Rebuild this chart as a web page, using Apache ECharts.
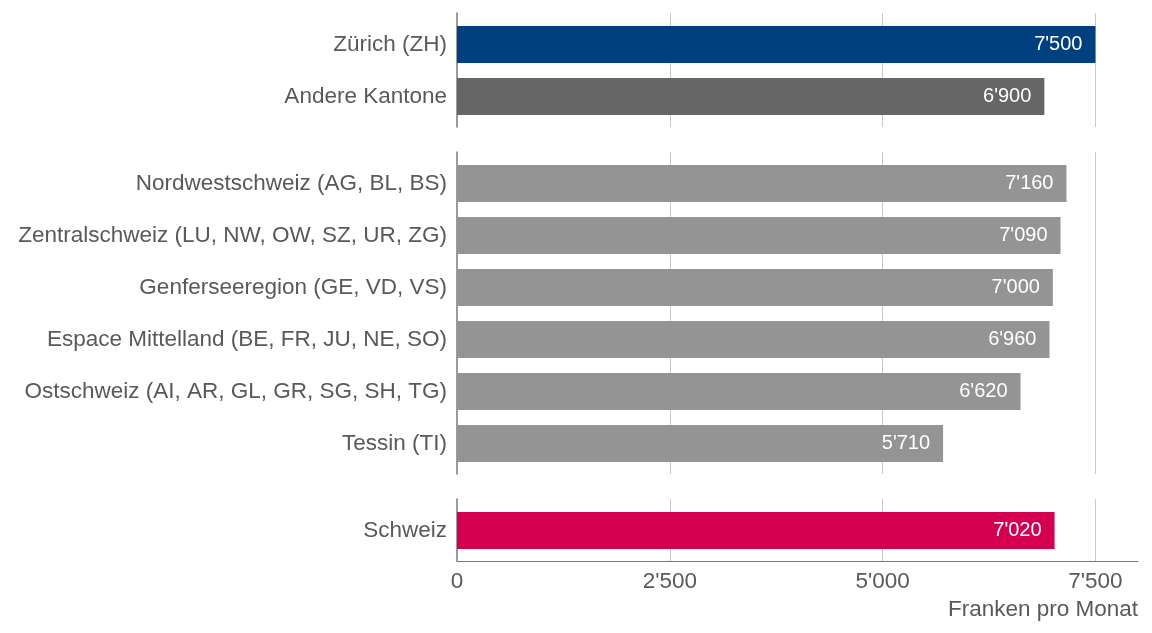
<!DOCTYPE html>
<html>
<head>
<meta charset="utf-8">
<script src="https://cdn.jsdelivr.net/npm/echarts@6/dist/echarts.min.js"></script>
<style>
  html, body { margin: 0; padding: 0; background: #fff; }
  #chart { width: 1152px; height: 633px; }
</style>
</head>
<body>
<div id="chart"></div>
<script>
// Lohn pro Monat nach Region
var topCats = ["Zürich (ZH)", "Andere Kantone"];
var topValues = [7500, 6900];

var regionCats = [
  "Nordwestschweiz (AG, BL, BS)",
  "Zentralschweiz (LU, NW, OW, SZ, UR, ZG)",
  "Genferseeregion (GE, VD, VS)",
  "Espace Mittelland (BE, FR, JU, NE, SO)",
  "Ostschweiz (AI, AR, GL, GR, SG, SH, TG)",
  "Tessin (TI)"
];
var regionValues = [7160, 7090, 7000, 6960, 6620, 5710];

var chCats = ["Schweiz"];
var chValues = [7020];

var xTicks = [0, 2500, 5000, 7500];
var unitLabel = "Franken pro Monat";

var topColors = ["#00407f", "#666666"];
var regionColor = "#949494";
var chColor = "#d4004f";

function fmt(v) {
  return String(v).replace(/\B(?=(\d{3})+(?!\d))/g, "'");
}

var textColor = "#595959";
var labelSize = 22.5;
var gridLeft = 457, gridWidth = 681;
var xMax = 8000;

// background grids (lines), then data grids
var bgBoxes = [[13, 114], [152, 322], [499, 62]];
var dataBoxes = [[18.5, 104], [157.4, 312], [504.5, 52]];

var grids = [], xAxes = [], yAxes = [];
bgBoxes.forEach(function (b, i) {
  grids.push({ left: gridLeft, width: gridWidth, top: b[0], height: b[1] });
  var last = i === bgBoxes.length - 1;
  xAxes.push({
    gridIndex: i, type: "value", min: 0, max: xMax, interval: xTicks[1] - xTicks[0],
    axisLine: { show: last, lineStyle: { color: "#7a7a7a", width: 1 } },
    axisTick: { show: false },
    axisLabel: {
      show: last, color: textColor, fontSize: labelSize, margin: 9,
      fontFamily: "Liberation Sans", showMaxLabel: false,
      formatter: function (v) { return xTicks.indexOf(v) >= 0 ? fmt(v) : ""; }
    },
    splitLine: { show: true, showMinLine: false, showMaxLine: false, lineStyle: { color: "#c8c8c8", width: 1 } }
  });
  yAxes.push({
    gridIndex: i, type: "value", min: 0, max: 1,
    axisLine: { show: true, onZero: false, lineStyle: { color: "#7a7a7a", width: 1.5 } },
    axisTick: { show: false }, axisLabel: { show: false }, splitLine: { show: false }
  });
});

var groups = [
  { cats: topCats, vals: topValues, color: function (p) { return topColors[p.dataIndex]; } },
  { cats: regionCats, vals: regionValues, color: regionColor },
  { cats: chCats, vals: chValues, color: chColor }
];

var series = [];
groups.forEach(function (g, i) {
  var gi = i + bgBoxes.length;
  grids.push({ left: gridLeft, width: gridWidth, top: dataBoxes[i][0], height: dataBoxes[i][1] });
  xAxes.push({ gridIndex: gi, type: "value", min: 0, max: xMax, show: false });
  yAxes.push({
    gridIndex: gi, type: "category", inverse: true, data: g.cats,
    axisLine: { show: false }, axisTick: { show: false },
    axisLabel: { color: textColor, fontSize: labelSize, margin: 10, fontFamily: "Liberation Sans" }
  });
  series.push({
    type: "bar", xAxisIndex: gi, yAxisIndex: gi, data: g.vals,
    barWidth: 37, silent: true,
    itemStyle: { color: g.color },
    label: {
      show: true, position: "insideRight", distance: 13,
      color: "#ffffff", fontSize: 20, fontFamily: "Liberation Sans",
      formatter: function (p) { return fmt(p.value); }
    }
  });
});

var chart = echarts.init(document.getElementById("chart"));
chart.setOption({
  animation: false,
  backgroundColor: "#ffffff",
  textStyle: { fontFamily: "Liberation Sans" },
  title: {
    text: unitLabel, right: 14, top: 598, padding: 0,
    textStyle: { color: textColor, fontSize: labelSize, fontWeight: "normal", fontFamily: "Liberation Sans" }
  },
  grid: grids,
  xAxis: xAxes,
  yAxis: yAxes,
  series: series
});
</script>
</body>
</html>
